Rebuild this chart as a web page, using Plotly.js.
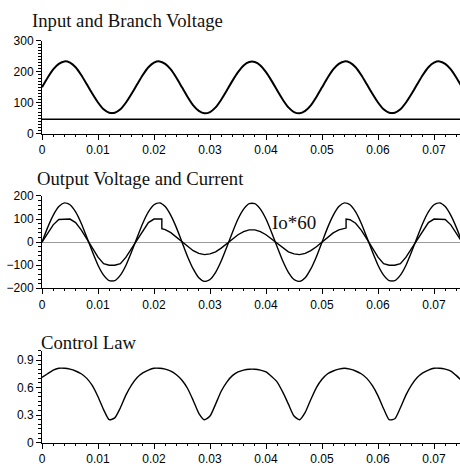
<!DOCTYPE html>
<html>
<head>
<meta charset="utf-8">
<script src="https://cdn.plot.ly/plotly-3.0.1.min.js"></script>
<style>
  html, body { margin: 0; padding: 0; background: #fff; }
  #chart { width: 460px; height: 469px; }
</style>
</head>
<body>
<div id="chart"></div>
<script>
// ---- data ----
const time = [0,0.001,0.002,0.003,0.004,0.005,0.006,0.007,0.008,0.009,
  0.010,0.011,0.012,0.013,0.014,0.015,0.016,0.017,0.018,0.019,
  0.020,0.021,0.022,0.023,0.024,0.025,0.026,0.027,0.028,0.029,
  0.030,0.031,0.032,0.033,0.034,0.035,0.036,0.037,0.038,0.039,
  0.040,0.041,0.042,0.043,0.044,0.045,0.046,0.047,0.048,0.049,
  0.050,0.051,0.052,0.053,0.054,0.055,0.056,0.057,0.058,0.059,
  0.060,0.061,0.062,0.063,0.064,0.065,0.066,0.067,0.068,0.069,
  0.070,0.071,0.072,0.073,0.074,0.075];

// Input voltage (top panel)
const inputVoltage = [150,181,208,226,234,230,215,190,160,129,
  101,79,68,68,79,101,129,160,190,215,
  230,234,226,208,181,150,119,92,74,66,
  70,85,110,140,171,199,221,232,232,221,
  199,171,140,110,85,70,66,74,92,119,
  150,181,208,226,234,230,215,190,160,129,
  101,79,68,68,79,101,129,160,190,215,
  230,234,226,208,181,150];

// Branch voltage (top panel, flat)
const branchTime = [0, 0.075];
const branchVoltage = [47, 47];

// Output voltage (middle panel)
const outputVoltage = [0,63,116,154,170,162,131,82,21,-42,
  -100,-143,-167,-167,-143,-100,-42,21,82,131,
  162,170,154,116,63,0,-63,-116,-154,-170,
  -162,-131,-82,-21,42,100,143,167,167,143,
  100,42,-21,-82,-131,-162,-170,-154,-116,-63,
  0,63,116,154,170,162,131,82,21,-42,
  -100,-143,-167,-167,-143,-100,-42,21,82,131,
  162,170,154,116,63,0];

// Output current x60 (middle panel), with its two jumps
const currentTime = [0,0.001,0.002,0.003,0.004,0.005,0.006,0.007,0.008,0.009,
  0.010,0.011,0.012,0.013,0.014,0.015,0.016,0.017,0.018,0.019,
  0.020,0.021,0.0214,0.0214,0.022,0.023,0.024,0.025,0.026,0.027,0.028,0.029,
  0.030,0.031,0.032,0.033,0.034,0.035,0.036,0.037,0.038,0.039,
  0.040,0.041,0.042,0.043,0.044,0.045,0.046,0.047,0.048,0.049,
  0.050,0.051,0.052,0.053,0.054,0.0543,0.0543,0.055,0.056,0.057,0.058,0.059,
  0.060,0.061,0.062,0.063,0.064,0.065,0.066,0.067,0.068,0.069,
  0.070,0.071,0.072,0.073,0.074,0.075];
const currentX60 = [0,40,75,98,100,100,85,53,14,-27,
  -65,-93,-100,-100,-93,-65,-27,14,53,85,
  100,100,100,58,54,41,22,0,-20,-37,-49,-54,
  -51,-42,-26,-7,14,32,46,53,53,46,
  32,14,-7,-26,-42,-51,-54,-49,-37,-20,
  0,22,40,53,59,61,100,97,82,52,14,-27,
  -65,-93,-100,-100,-93,-65,-27,14,53,85,
  100,100,98,75,40,0];

// Control law (bottom panel)
const controlLaw = [0.71,0.75,0.79,0.81,0.81,0.80,0.78,0.75,0.70,0.62,
  0.50,0.36,0.25,0.27,0.38,0.52,0.63,0.71,0.76,0.79,
  0.81,0.81,0.80,0.78,0.74,0.68,0.59,0.46,0.32,0.25,
  0.29,0.42,0.56,0.66,0.73,0.77,0.79,0.80,0.80,0.79,
  0.77,0.72,0.66,0.55,0.42,0.29,0.25,0.33,0.47,0.60,
  0.69,0.75,0.78,0.80,0.81,0.80,0.78,0.75,0.70,0.62,
  0.51,0.37,0.25,0.26,0.38,0.52,0.63,0.71,0.76,0.79,
  0.81,0.81,0.80,0.78,0.73,0.67];

const xTickVals = [0,0.01,0.02,0.03,0.04,0.05,0.06,0.07];
const xTickText = ['0','0.01','0.02','0.03','0.04','0.05','0.06','0.07'];
const titles = ['Input and Branch Voltage', 'Output Voltage and Current', 'Control Law'];
const currentLabel = 'Io*60';

// ---- plotting ----
const black = '#000000';
const traces = [
  {x: time, y: inputVoltage, xaxis: 'x', yaxis: 'y', mode: 'lines',
   line: {color: black, width: 2, shape: 'spline', smoothing: 0.6}},
  {x: branchTime, y: branchVoltage, xaxis: 'x', yaxis: 'y', mode: 'lines',
   line: {color: black, width: 1.6}},
  {x: time, y: outputVoltage, xaxis: 'x2', yaxis: 'y2', mode: 'lines',
   line: {color: black, width: 1.4, shape: 'spline', smoothing: 0.6}},
  {x: currentTime, y: currentX60, xaxis: 'x2', yaxis: 'y2', mode: 'lines',
   line: {color: black, width: 1.4}},
  {x: time, y: controlLaw, xaxis: 'x3', yaxis: 'y3', mode: 'lines',
   line: {color: black, width: 1.4, shape: 'spline', smoothing: 0.6}}
];

const tickFont = {family: 'Liberation Sans, Arial, sans-serif', size: 12, color: '#000000'};
function xAxis(anchor) {
  return {
    anchor: anchor, domain: [0, 1], range: [0, 0.07464],
    tickmode: 'array', tickvals: xTickVals, ticktext: xTickText,
    showline: true, linecolor: black, linewidth: 1, mirror: false,
    showgrid: false, zeroline: false,
    ticks: 'outside', ticklen: 5, tickcolor: black, tickwidth: 1,
    minor: {dtick: 0.002, tick0: 0, ticks: 'outside', ticklen: 2, tickcolor: black, showgrid: false},
    tickfont: tickFont, fixedrange: true
  };
}
function yAxis(anchor, domain, range, dtick, minorDtick, zero) {
  return {
    anchor: anchor, domain: domain, range: range,
    tickmode: 'linear', tick0: 0, dtick: dtick,
    showline: true, linecolor: black, linewidth: 1,
    showgrid: false, zeroline: zero, zerolinecolor: '#9a9a9a', zerolinewidth: 1,
    ticks: 'outside', ticklen: 5, tickcolor: black, tickwidth: 1,
    minor: {dtick: minorDtick, ticks: 'outside', ticklen: 3, tickcolor: black, showgrid: false},
    tickfont: tickFont, fixedrange: true
  };
}

const serif = 'Liberation Serif, Times New Roman, serif';
const titleFont = {family: serif, size: 18.7, color: '#111111'};
function titleNote(text, x, y) {
  return {text: text, xref: 'paper', yref: 'paper', x: x, y: y,
    xanchor: 'left', yanchor: 'middle', align: 'left', width: 300,
    borderpad: 0, borderwidth: 0, showarrow: false, font: titleFont};
}
const layout = {
  width: 460, height: 469,
  margin: {l: 42, r: 0, t: 0, b: 0, pad: 0},
  paper_bgcolor: '#ffffff', plot_bgcolor: '#ffffff',
  showlegend: false,
  xaxis: xAxis('y'),
  xaxis2: xAxis('y2'),
  xaxis3: xAxis('y3'),
  yaxis: yAxis('x', [0.7149, 0.9126], [0, 300], 100, 10, false),
  yaxis2: yAxis('x2', [0.3853, 0.5821], [-200, 200], 100, 20, true),
  yaxis3: yAxis('x3', [0.0561, 0.2520], [0, 1], 0.3, 0.05, false),
  annotations: [
    titleNote(titles[0], -0.0239, 0.956),
    titleNote(titles[1], -0.0120, 0.6186),
    titleNote(titles[2], -0.0024, 0.2704),
    {text: currentLabel, xref: 'x2', yref: 'y2', x: 0.04107, y: 83,
     xanchor: 'left', yanchor: 'middle', align: 'left', width: 60,
     borderpad: 0, borderwidth: 0, showarrow: false,
     font: {family: serif, size: 19, color: '#111111'}}
  ]
};

Plotly.newPlot('chart', traces, layout, {displayModeBar: false, staticPlot: true});
</script>
</body>
</html>
